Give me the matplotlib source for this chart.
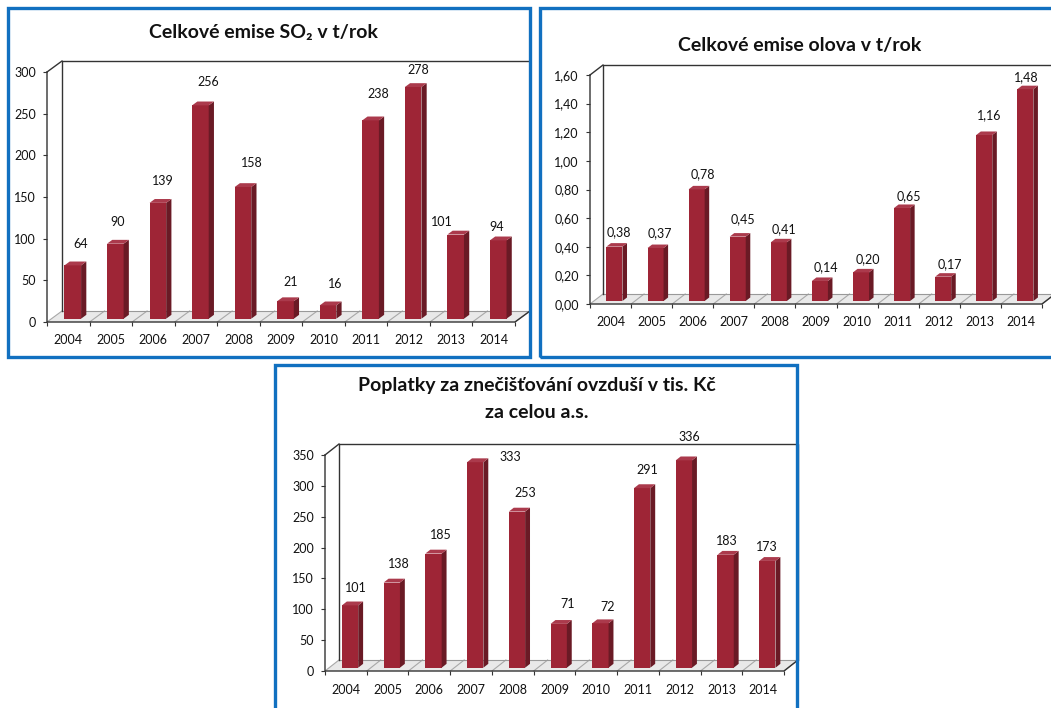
import matplotlib.pyplot as plt
from matplotlib.patches import Polygon, Rectangle
import numpy as np

plt.rcParams['font.family'] = ['Lato', 'DejaVu Sans']

W, H = 1051, 708

years = ['2004', '2005', '2006', '2007', '2008', '2009', '2010', '2011', '2012', '2013', '2014']
so2 = [64, 90, 139, 256, 158, 21, 16, 238, 278, 101, 94]
olovo = [0.38, 0.37, 0.78, 0.45, 0.41, 0.14, 0.20, 0.65, 0.17, 1.16, 1.48]
poplatky = [101, 138, 185, 333, 253, 71, 72, 291, 336, 183, 173]

so2_ticks = [0, 50, 100, 150, 200, 250, 300]
olovo_ticks = [0.0, 0.2, 0.4, 0.6, 0.8, 1.0, 1.2, 1.4, 1.6]
poplatky_ticks = [0, 50, 100, 150, 200, 250, 300, 350]

# data label offsets (pixels right / up from the bar top on the front plane)
so2_off = [(12, 25), (7, 25), (9, 25), (12, 27), (13, 27), (10, 23), (12, 25),
           (12, 30), (10, 20), (-9, 16), (3, 17)]
olovo_off = [(8, 17), (8, 18), (10, 18), (9, 20), (9, 16), (10, 17), (11, 16),
             (11, 15), (11, 16), (9, 23), (5, 15)]
poplatky_off = [(10, 21), (11, 22), (12, 22), (39, 8), (13, 22), (13, 23), (11, 20),
                (9, 21), (10, 27), (5, 17), (4, 17)]

FRONT = '#9e2536'
SIDE = '#6a1a25'
TOP = '#ab3a4c'
BLUE = '#1170c0'
EDGE = '#333333'
TXT = '#111111'

fig = plt.figure(figsize=(W / 100, H / 100), dpi=100)


def frame(x0, y0, x1, y1):
    fig.patches.append(Rectangle((x0 / W, 1 - y1 / H), (x1 - x0) / W, (y1 - y0) / H,
                                 transform=fig.transFigure, fill=False, ec=BLUE, lw=2.4))


def title(x, y, s):
    fig.text(x / W, 1 - y / H, s, ha='center', va='center', fontsize=14,
             fontweight='bold', color=TXT)


def chart(rect, depth, values, ticks, ticklabels, labels, offsets):
    x0, y0, x1, y1 = rect
    ax = fig.add_axes([x0 / W, 1 - y1 / H, (x1 - x0) / W, (y1 - y0) / H])
    n = len(values)
    ymax = ticks[-1]
    ax.set_xlim(-0.5, n - 0.5)
    ax.set_ylim(0, ymax)
    for s in ax.spines.values():
        s.set_visible(False)
    ax.patch.set_alpha(0)

    # pixel depth converted to data units
    dx = depth[0] * n / (x1 - x0)
    dy = depth[1] * ymax / (y1 - y0)
    xa, xb = -0.5, n - 0.5

    # floor
    ax.add_patch(Polygon([(xa, 0), (xb, 0), (xb + dx, dy), (xa + dx, dy)], closed=True,
                         fc='#e9e9e9', ec='none', zorder=1, clip_on=False))
    for k in range(n + 1):
        xk = xa + k
        ax.plot([xk, xk + dx], [0, dy], color='#a8a8a8', lw=0.8, zorder=1, clip_on=False)

    # back wall and box edges
    ax.plot([xa + dx, xa + dx, xb + dx, xb + dx], [dy, ymax + dy, ymax + dy, dy],
            color=EDGE, lw=1.0, zorder=2, clip_on=False)
    ax.plot([xa + dx, xb + dx], [dy, dy], color='#999999', lw=0.8, zorder=1, clip_on=False)
    ax.plot([xa, xa + dx], [ymax, ymax + dy], color=EDGE, lw=1.0, zorder=2, clip_on=False)
    ax.plot([xa, xa, xb, xb + dx], [ymax, 0, 0, dy], color=EDGE, lw=1.0, zorder=4,
            clip_on=False)

    # 3d columns
    f0, bd, w = 0.3, 0.35, 0.39
    xs = np.arange(n) + f0 * dx
    yb = f0 * dy
    ax.bar(xs, values, width=w, bottom=yb, color=FRONT, zorder=3)
    for x, v in zip(xs, values):
        xl, xr = x - w / 2, x + w / 2
        ax.add_patch(Polygon([(xr, yb), (xr + bd * dx, yb + bd * dy),
                              (xr + bd * dx, yb + v + bd * dy), (xr, yb + v)],
                             closed=True, fc=SIDE, ec='none', zorder=3, clip_on=False))
        ax.add_patch(Polygon([(xl, yb + v), (xr, yb + v), (xr + bd * dx, yb + v + bd * dy),
                              (xl + bd * dx, yb + v + bd * dy)],
                             closed=True, fc=TOP, ec='none', zorder=3, clip_on=False))

    for i, (v, lab) in enumerate(zip(values, labels)):
        ax.annotate(lab, (i, v), xytext=offsets[i], textcoords='offset pixels',
                    ha='center', va='center', fontsize=9, color=TXT)

    ax.set_yticks(ticks, ticklabels)
    ax.tick_params(axis='y', length=3, width=0.8, color=EDGE, pad=5, labelsize=9,
                   labelcolor=TXT)
    ax.set_xticks(range(n), years)
    ax.set_xticks(np.arange(n + 1) - 0.5, minor=True)
    ax.tick_params(axis='x', which='major', length=0, pad=9, labelsize=9, labelcolor=TXT)
    ax.tick_params(axis='x', which='minor', length=3, width=0.8, color=EDGE)
    return ax


# SO2
frame(8, 8, 530, 357)
title(263, 33, 'Celkové emise SO₂ v t/rok')
chart((47, 72, 515, 322), (15, 11), so2, so2_ticks, [str(t) for t in so2_ticks],
      [str(v) for v in so2], so2_off)

# lead
frame(540, 8, 1062, 357)
title(800, 45, 'Celkové emise olova v t/rok')
chart((590, 75, 1042, 304), (13, 10), olovo, olovo_ticks,
      [f'{t:.2f}'.replace('.', ',') for t in olovo_ticks],
      [f'{v:.2f}'.replace('.', ',') for v in olovo], olovo_off)

# fees
frame(275, 365, 797, 716)
title(537, 386, 'Poplatky za znečišťování ovzduší v tis. Kč')
title(537, 412, 'za celou a.s.')
chart((325, 455, 784, 671), (14, 11), poplatky, poplatky_ticks,
      [str(t) for t in poplatky_ticks], [str(v) for v in poplatky], poplatky_off)

fig.savefig('out.png', dpi=100)
